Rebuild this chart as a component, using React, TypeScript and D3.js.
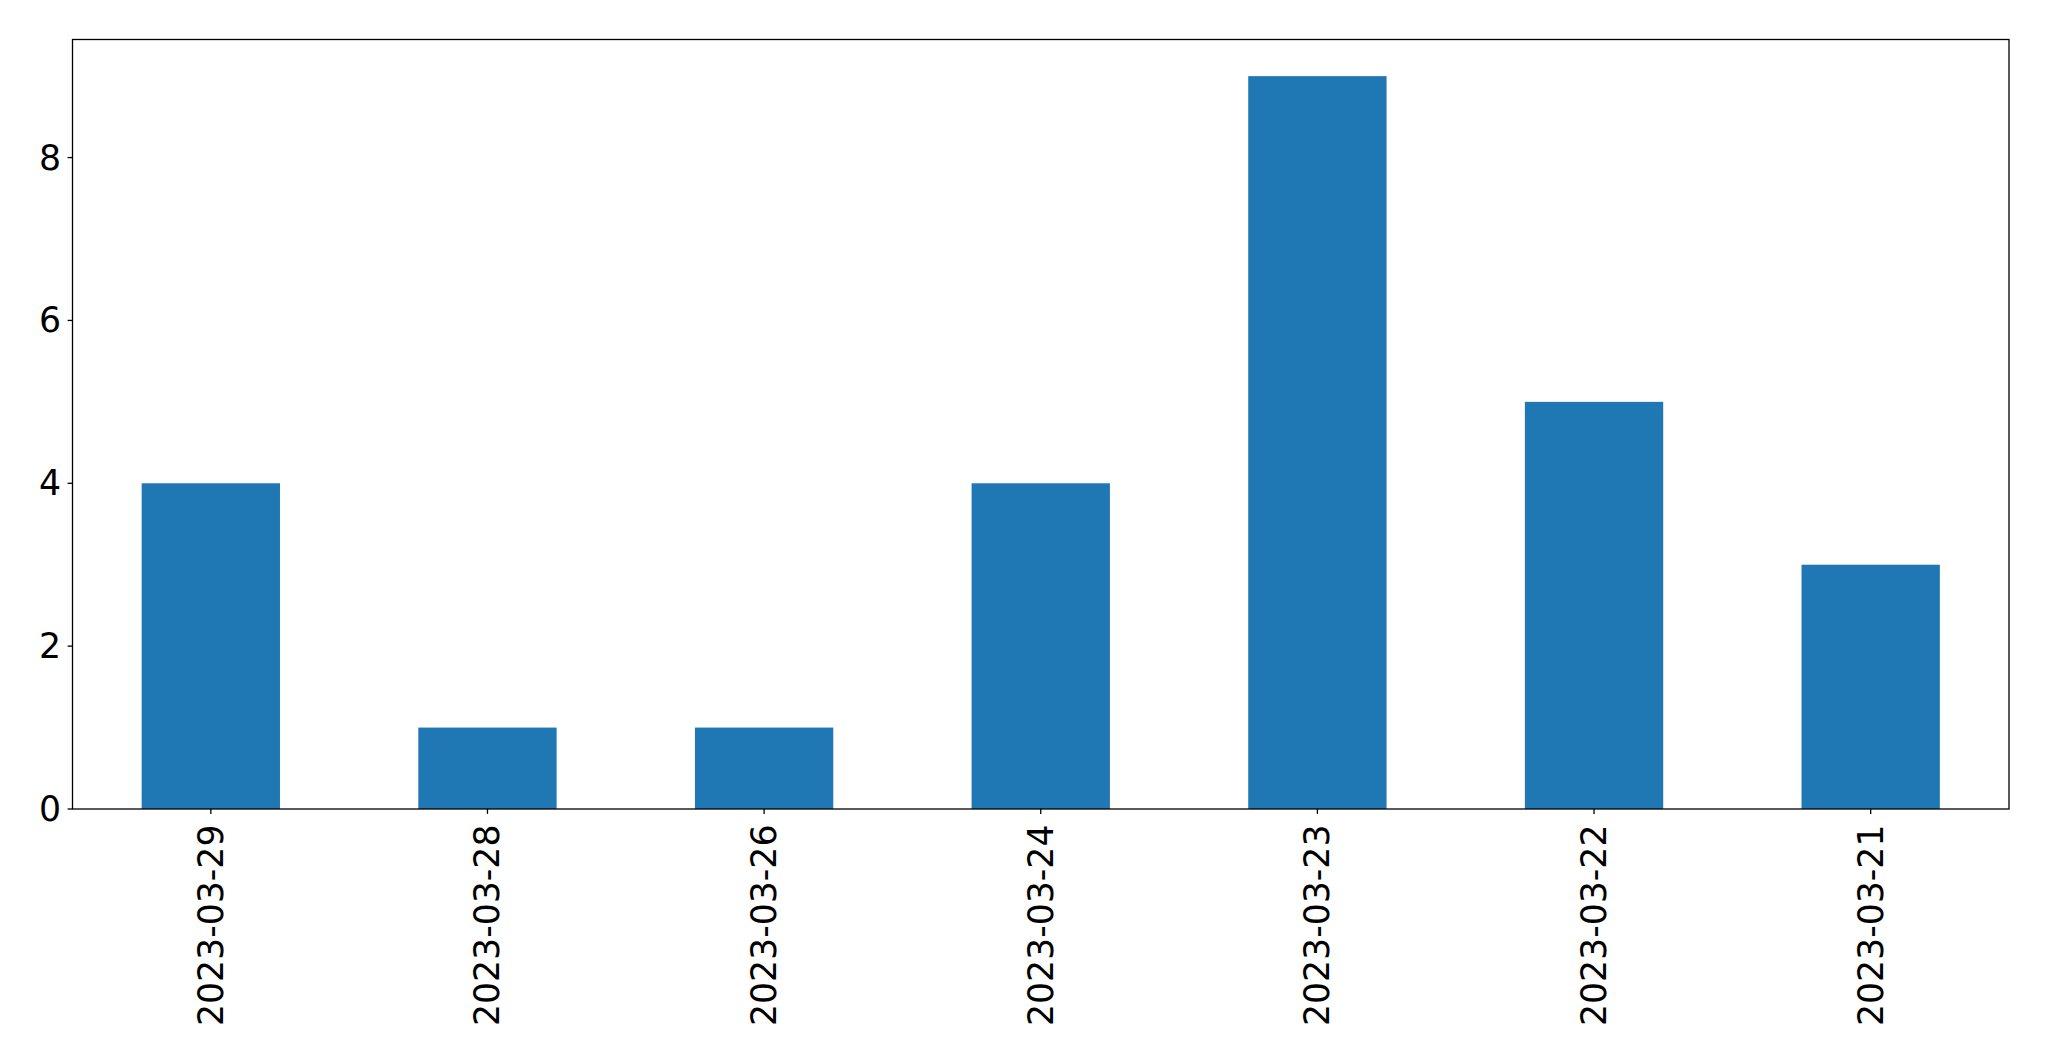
import { useEffect, useRef } from 'react';
import * as d3 from 'd3';

const dates = ['2023-03-29', '2023-03-28', '2023-03-26', '2023-03-24', '2023-03-23', '2023-03-22', '2023-03-21'];
const counts = [4, 1, 1, 4, 9, 5, 3];
const yTicks = [0, 2, 4, 6, 8];

export default function App() {
    const svgRef = useRef<SVGSVGElement>(null);
    const width = 2049;
    const height = 1061;
    const margin = { top: 39.5, right: 40, bottom: 252, left: 72.5 };

    useEffect(() => {
        if (!svgRef.current) return;
        const svg = d3.select(svgRef.current);
        svg.selectAll('*').remove();

        const x0 = margin.left;
        const x1 = width - margin.right;
        const y0 = height - margin.bottom;
        const y1 = margin.top;

        // pandas-style bar layout: categories at integers, xlim -0.5..n-0.5
        const x = d3.scaleLinear().domain([-0.5, dates.length - 0.5]).range([x0, x1]);
        const yMax = d3.max(counts)! * 1.05;
        const y = d3.scaleLinear().domain([0, yMax]).range([y0, y1]);
        const barW = x(0.25) - x(-0.25);
        const font = 'DejaVu Sans, sans-serif';
        const fs = 34.7;

        svg.append('g')
            .selectAll('rect')
            .data(counts)
            .enter()
            .append('rect')
            .attr('x', (_, i) => x(i) - barW / 2)
            .attr('y', d => y(d))
            .attr('width', barW)
            .attr('height', d => y(0) - y(d))
            .attr('fill', '#1f77b4');

        // frame
        svg.append('rect')
            .attr('x', x0)
            .attr('y', y1)
            .attr('width', x1 - x0)
            .attr('height', y0 - y1)
            .attr('fill', 'none')
            .attr('stroke', 'black')
            .attr('stroke-width', 1.3);

        const yAxis = svg.append('g');
        yTicks.forEach(t => {
            yAxis.append('line')
                .attr('x1', x0 - 4.9).attr('x2', x0)
                .attr('y1', y(t)).attr('y2', y(t))
                .attr('stroke', 'black').attr('stroke-width', 1.3);
            yAxis.append('text')
                .attr('x', x0 - 11.5)
                .attr('y', y(t))
                .attr('text-anchor', 'end')
                .attr('dominant-baseline', 'central')
                .attr('font-family', font)
                .attr('font-size', fs)
                .attr('fill', 'black')
                .text(t);
        });

        const xAxis = svg.append('g');
        dates.forEach((d, i) => {
            xAxis.append('line')
                .attr('x1', x(i)).attr('x2', x(i))
                .attr('y1', y0).attr('y2', y0 + 4.9)
                .attr('stroke', 'black').attr('stroke-width', 1.3);
            xAxis.append('text')
                .attr('transform', `translate(${x(i)},${y0 + 15.5}) rotate(-90)`)
                .attr('text-anchor', 'end')
                .attr('dominant-baseline', 'central')
                .attr('font-family', font)
                .attr('font-size', fs)
                .attr('fill', 'black')
                .text(d);
        });
    }, []);

    return (
        <svg
            ref={svgRef}
            width={width}
            height={height}
            viewBox={`0 0 ${width} ${height}`}
            style={{ position: 'absolute', left: 0, top: 0, background: 'white' }}
        />
    );
}
